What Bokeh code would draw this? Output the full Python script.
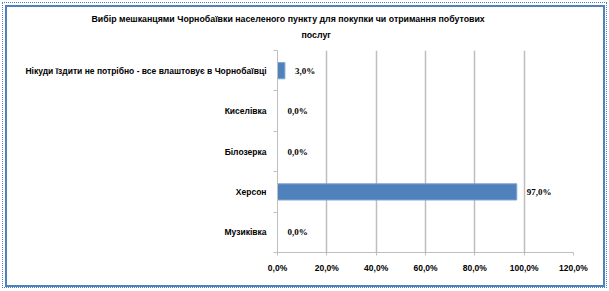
from bokeh.plotting import figure
from bokeh.models import FixedTicker, ColumnDataSource, Title, InlineStyleSheet
from bokeh.embed import file_html
from bokeh.resources import INLINE

title_line1 = "Вибір мешканцями Чорнобаївки населеного пункту для покупки чи отримання побутових"
title_line2 = "послуг"
categories = ["Музиківка", "Херсон", "Білозерка", "Киселівка",
              "Нікуди їздити не потрібно - все влаштовує в Чорнобаївці"]
values = [0.0, 97.0, 0.0, 0.0, 3.0]
x_ticks = [0, 20, 40, 60, 80, 100, 120]
x_tick_labels = ["0,0%", "20,0%", "40,0%", "60,0%", "80,0%", "100,0%", "120,0%"]

FONT = "Liberation Sans"
BLUE = "#4f81bd"
GRID = "#bebebe"

W, H = 609, 291
css = """
:host { position: relative; }
:host::before { content: ''; position: absolute; left: 5px; top: 5px; width: 596px; height: 278px;
  border: 2px solid #4f81bd; pointer-events: none; z-index: 20; }
:host::after { content: ''; position: absolute; left: 2px; top: 2px; width: 603px; height: 284px;
  border: 1px dotted #4f81bd; pointer-events: none; z-index: 20; }
"""
p = figure(width=W, height=H, output_backend="svg", toolbar_location=None,
           x_range=(0, 120), y_range=(0, len(categories)),
           min_border_left=277, min_border_right=36,
           min_border_top=50, min_border_bottom=39,
           title=None)
p.stylesheets = [InlineStyleSheet(css=css)]
p.outline_line_color = None
p.background_fill_color = "white"
p.border_fill_color = "white"

# title: second line is closest to the plot, first line above it
p.add_layout(Title(text=title_line2, align="left", offset=24, standoff=22,
                   text_font=FONT, text_font_style="bold", text_font_size="8.8px",
                   text_color="black"), "above")
p.add_layout(Title(text=title_line1, align="left", offset=-186, standoff=-15,
                   text_font=FONT, text_font_style="bold", text_font_size="8.8px",
                   text_color="black"), "above")

centers = [i + 0.5 for i in range(len(categories))]
labels = [("%.1f" % v).replace(".", ",") + "%" for v in values]
src = ColumnDataSource(dict(y=centers, v=values, lab=labels, cat=categories))

p.hbar(y="y", left=0, right="v", height=0.4, source=src,
       fill_color=BLUE, line_color="#7ea3d1", line_width=1)
p.text(x="v", y="y", text="lab", source=src, x_offset=10,
       text_align="left", text_baseline="middle",
       text_font=FONT, text_font_style="bold", text_font_size="9px",
       text_color="black")

# x axis
xa = p.xaxis[0]
xa.ticker = FixedTicker(ticks=x_ticks)
xa.major_label_overrides = {t: l for t, l in zip(x_ticks, x_tick_labels)}
xa.axis_line_color = GRID
xa.major_tick_line_color = GRID
xa.major_tick_out = 3
xa.major_tick_in = 0
xa.minor_tick_line_color = None
xa.major_label_standoff = 7
xa.major_label_text_font = FONT
xa.major_label_text_font_style = "bold"
xa.major_label_text_font_size = "8.5px"
xa.major_label_text_color = "black"

# y axis
ya = p.yaxis[0]
ya.ticker = FixedTicker(ticks=centers, minor_ticks=list(range(len(categories) + 1)))
ya.major_label_overrides = {c: n for c, n in zip(centers, categories)}
ya.axis_line_color = GRID
ya.major_tick_line_color = None
ya.minor_tick_line_color = GRID
ya.minor_tick_out = 4
ya.minor_tick_in = 0
ya.major_label_standoff = 5
ya.major_label_text_font = FONT
ya.major_label_text_font_style = "bold"
ya.major_label_text_font_size = "8.5px"
ya.major_label_text_color = "black"

p.xgrid.grid_line_color = GRID
p.xgrid.grid_line_width = 1.5
p.xgrid.ticker = FixedTicker(ticks=x_ticks)
p.ygrid.grid_line_color = None

open("out.html", "w").write(file_html(p, INLINE))
